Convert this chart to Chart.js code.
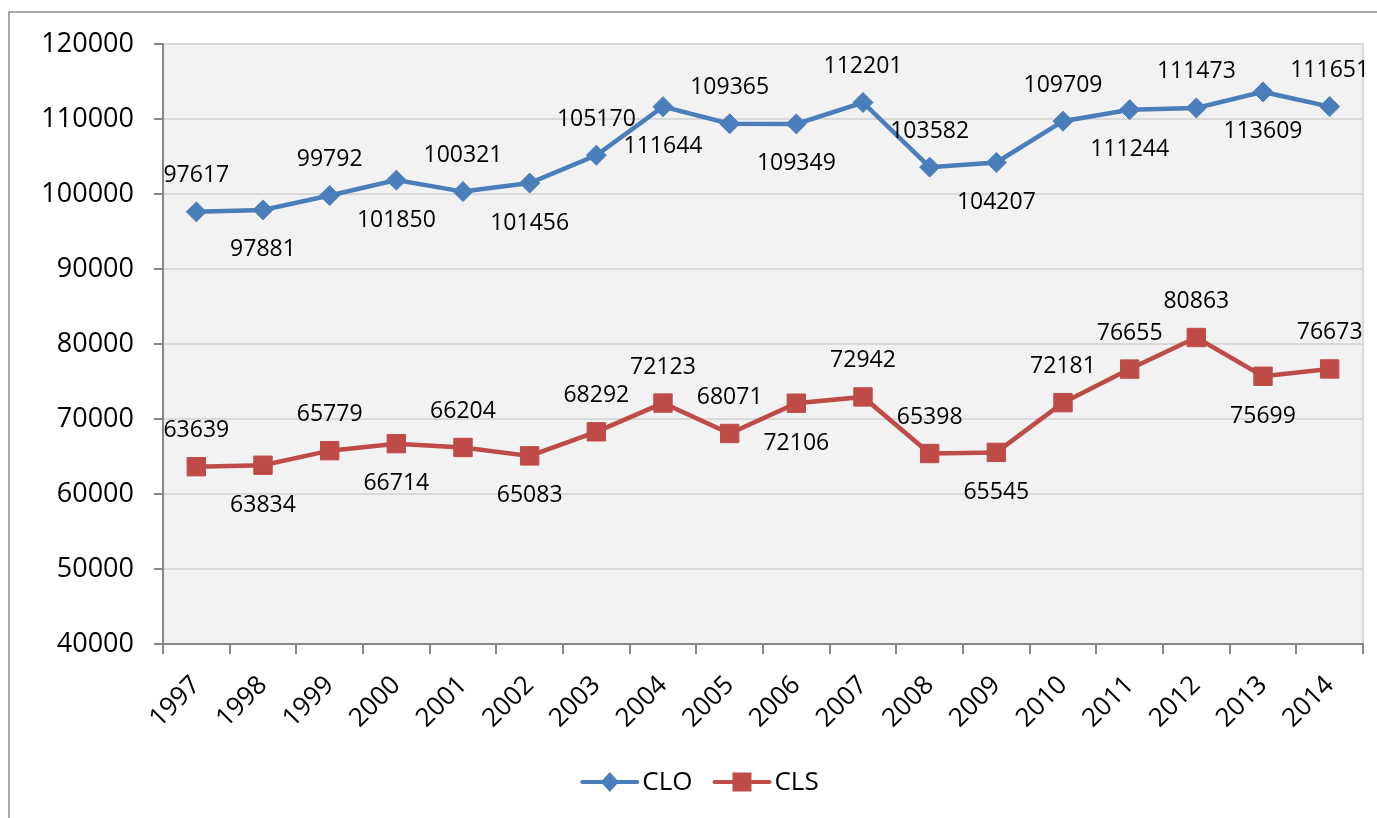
<!DOCTYPE html>
<html>
<head>
<meta charset="utf-8">
<script src="https://cdn.jsdelivr.net/npm/chart.js@4/dist/chart.umd.min.js"></script>
<style>
  html, body { margin: 0; padding: 0; background: #fff; }
</style>
</head>
<body>
<canvas id="chart" width="1377" height="818"></canvas>
<script>
// data
const years = ["1997", "1998", "1999", "2000", "2001", "2002", "2003", "2004", "2005",
  "2006", "2007", "2008", "2009", "2010", "2011", "2012", "2013", "2014"];
const clo = [97617, 97881, 99792, 101850, 100321, 101456, 105170, 111644, 109365,
  109349, 112201, 103582, 104207, 109709, 111244, 111473, 113609, 111651];
const cls = [63639, 63834, 65779, 66714, 66204, 65083, 68292, 72123, 68071,
  72106, 72942, 65398, 65545, 72181, 76655, 80863, 75699, 76673];
// which side of the point each value label sits on
const cloLabelSide = ["up", "down", "up", "down", "up", "down", "up", "down", "up",
  "down", "up", "up", "down", "up", "down", "up", "down", "up"];
const clsLabelSide = ["up", "down", "up", "down", "up", "down", "up", "up", "up",
  "down", "up", "up", "down", "up", "up", "up", "down", "up"];
const yMin = 40000, yMax = 120000, yStep = 10000;

const FONT = "'Open Sans', 'DejaVu Sans', sans-serif";
const BLUE = "#4A7EBB";
const RED = "#BE4B48";

const background = {
  id: "background",
  beforeDraw(chart) {
    const { ctx, chartArea: a } = chart;
    ctx.save();
    ctx.fillStyle = "#fff";
    ctx.fillRect(0, 0, chart.width, chart.height);
    // outer frame (only top and left are inside the picture)
    ctx.strokeStyle = "#8C8C8C";
    ctx.lineWidth = 1.5;
    ctx.beginPath();
    ctx.moveTo(9, chart.height);
    ctx.lineTo(9, 12);
    ctx.lineTo(chart.width, 12);
    ctx.stroke();
    // plot area
    ctx.fillStyle = "#F2F2F2";
    ctx.fillRect(a.left, a.top, a.right - a.left, a.bottom - a.top);
    ctx.strokeStyle = "#D9D9D9";
    ctx.lineWidth = 2;
    ctx.beginPath();
    ctx.moveTo(a.left, a.top);
    ctx.lineTo(a.right, a.top);
    ctx.lineTo(a.right, a.bottom);
    ctx.stroke();
    ctx.restore();
  }
};

const valueLabels = {
  id: "valueLabels",
  afterDatasetsDraw(chart) {
    const { ctx } = chart;
    const sides = [cloLabelSide, clsLabelSide];
    ctx.save();
    ctx.font = "23px " + FONT;
    ctx.fillStyle = "#000";
    ctx.textAlign = "center";
    ctx.textBaseline = "middle";
    chart.data.datasets.forEach((ds, di) => {
      const meta = chart.getDatasetMeta(di);
      meta.data.forEach((pt, i) => {
        const dy = sides[di][i] === "up" ? -36 : 40;
        ctx.fillText(String(ds.data[i]), pt.x, pt.y + dy);
      });
    });
    ctx.restore();
  }
};

function marker(ctx, style, x, y, color) {
  ctx.fillStyle = color;
  ctx.beginPath();
  if (style === "rectRot") {
    ctx.moveTo(x - 9, y);
    ctx.lineTo(x, y - 10);
    ctx.lineTo(x + 9, y);
    ctx.lineTo(x, y + 10);
  } else {
    ctx.rect(x - 9.5, y - 9.5, 19, 19);
  }
  ctx.closePath();
  ctx.fill();
}

const bottomLegend = {
  id: "bottomLegend",
  afterDraw(chart) {
    const { ctx } = chart;
    const lineLen = 55, gap = 5, itemGap = 22, y = 782;
    ctx.save();
    ctx.font = "26px " + FONT;
    const items = chart.data.datasets.map(ds => ({
      ds, w: lineLen + gap + ctx.measureText(ds.label).width
    }));
    const total = items.reduce((s, it) => s + it.w, 0) + itemGap * (items.length - 1);
    let x = (chart.width - total) / 2 + 12;
    items.forEach(({ ds, w }) => {
      ctx.strokeStyle = ds.borderColor;
      ctx.lineWidth = 4;
      ctx.lineCap = "round";
      ctx.beginPath();
      ctx.moveTo(x, y);
      ctx.lineTo(x + lineLen, y);
      ctx.stroke();
      marker(ctx, ds.pointStyle, x + lineLen / 2, y, ds.borderColor);
      ctx.fillStyle = "#000";
      ctx.textAlign = "left";
      ctx.textBaseline = "middle";
      ctx.fillText(ds.label, x + lineLen + gap, y + 1);
      x += w + itemGap;
    });
    ctx.restore();
  }
};

const ctx = document.getElementById("chart").getContext("2d");
const myChart = new Chart(ctx, {
  type: "line",
  data: {
    labels: years,
    datasets: [
      {
        label: "CLO",
        data: clo,
        borderColor: BLUE,
        backgroundColor: BLUE,
        borderWidth: 4.5,
        tension: 0,
        pointStyle: "rectRot",
        pointRadius: 10,
        pointBorderWidth: 1,
        pointBackgroundColor: BLUE,
        pointBorderColor: BLUE,
      },
      {
        label: "CLS",
        data: cls,
        borderColor: RED,
        backgroundColor: RED,
        borderWidth: 4.5,
        tension: 0,
        pointStyle: "rect",
        pointRadius: 13,
        pointBorderWidth: 1,
        pointBackgroundColor: RED,
        pointBorderColor: RED,
      },
    ],
  },
  options: {
    responsive: false,
    animation: false,
    layout: { padding: { top: 44, right: 10, bottom: 0, left: 0 } },
    plugins: {
      legend: { display: false },
      tooltip: { enabled: false },
    },
    scales: {
      x: {
        offset: true,
        grid: {
          offset: true,
          drawOnChartArea: false,
          drawTicks: true,
          tickLength: 10,
          color: "#868686",
          lineWidth: 2,
        },
        border: { display: true, color: "#868686", width: 2 },
        ticks: {
          autoSkip: false,
          minRotation: 45,
          maxRotation: 45,
          padding: 16,
          color: "#000",
          font: { family: FONT, size: 26 },
        },
        afterFit(scale) { scale.height = 174; },
      },
      y: {
        min: yMin,
        max: yMax,
        grid: {
          color: "#D9D9D9",
          lineWidth: 2,
          tickLength: 9,
          tickColor: "#868686",
        },
        border: { display: true, color: "#868686", width: 2 },
        ticks: {
          stepSize: yStep,
          padding: 20,
          color: "#000",
          font: { family: FONT, size: 27 },
          callback: (v) => String(v),
        },
        afterFit(scale) { scale.width = 163; },
      },
    },
  },
  plugins: [background, valueLabels, bottomLegend],
});
</script>
</body>
</html>
